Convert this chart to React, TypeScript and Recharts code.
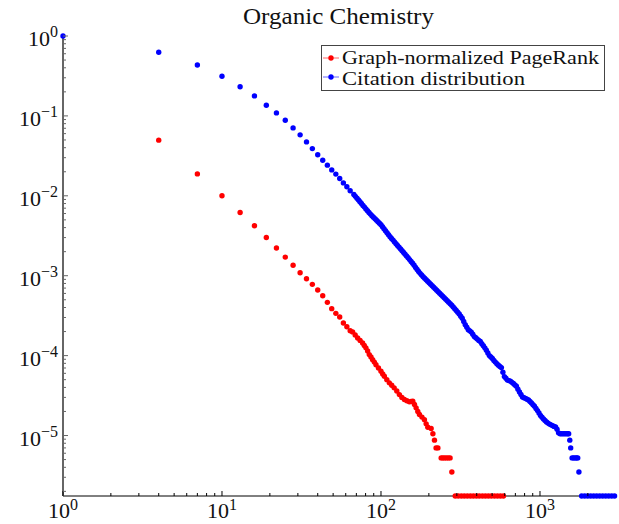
import { ScatterChart, Scatter, XAxis, YAxis } from "recharts";

const FONT = '"Liberation Serif", "Times New Roman", serif';

// Citation distribution (blue): main readings
const blueX = [
  1, 4, 7, 10, 13, 16, 19, 22, 25, 28, 31, 34, 37, 40, 43, 46, 49, 52, 55, 58, 61, 64,
  67.5, 70.6, 73.7, 77, 80.4, 84, 87.7, 91.7, 95.7, 100, 104.4, 109.1, 114, 119, 124.3, 129.9,
  135.7, 141.7, 148, 154.6, 161.5, 168.7, 176.2, 184.1, 192.3, 200.8, 209.8, 219.1, 228.8, 239,
  249.7, 260.8, 272.4, 284.6, 297.3, 310.5, 324.3, 338.8, 353.9, 369.6, 386.2, 403.4, 421.3,
  440.1, 459.9, 480.3, 501.7, 524, 547.4, 571.8, 597.2, 623.7, 651.5, 680.6, 710.9, 742.7,
  775.7, 810.2, 846.3, 884.3, 923.4, 964.3, 1007, 1052, 1099, 1148, 1199, 1253,
  1308, 1366, 1427, 1491, 1540, 1560, 1592, 1627, 1663, 1699, 1727, 1757,
  1828, 1910, 1995, 2084, 2177, 2273, 2374, 2479, 2589, 2704, 2824, 2945,
];
const blueY = [
  1, 0.625, 0.434, 0.313, 0.232, 0.178, 0.136, 0.109, 0.0883, 0.0708, 0.0579, 0.0473, 0.039,
  0.0326, 0.0279, 0.0242, 0.0211, 0.0187, 0.0165, 0.0145, 0.013, 0.01155,
  0.01038, 0.00933, 0.00844, 0.00759, 0.00686, 0.0062, 0.00562, 0.00516, 0.00473, 0.00434,
  0.00387, 0.00345, 0.00307, 0.00279, 0.00251, 0.00227, 0.00205, 0.00186, 0.00168, 0.00151,
  0.00135, 0.0012, 0.00107, 0.000972, 0.000891, 0.000818, 0.00075, 0.000688, 0.000631,
  0.000579, 0.000531, 0.000487, 0.000447, 0.000406, 0.000367, 0.000332, 0.000293, 0.000244,
  0.000211, 0.000197, 0.000173, 0.000161, 0.00015, 0.000133, 0.000117, 0.0001, 9.2e-5, 8.3e-5,
  7.6e-5, 7.08e-5, 5.46e-5, 4.94e-5, 4.8e-5, 4.47e-5, 4.13e-5, 3.5e-5, 3.03e-5, 2.92e-5,
  2.78e-5, 2.55e-5, 2.32e-5, 2.05e-5, 1.78e-5, 1.61e-5, 1.48e-5, 1.39e-5, 1.33e-5, 1.28e-5,
  1.08e-5, 1.05e-5, 1.05e-5, 1.05e-5, 8.75e-6, 7e-6, 5.25e-6, 5.25e-6, 5.25e-6, 5.25e-6,
  5.25e-6, 3.5e-6,
  1.75e-6, 1.75e-6, 1.75e-6, 1.75e-6, 1.75e-6, 1.75e-6, 1.75e-6, 1.75e-6, 1.75e-6, 1.75e-6,
  1.75e-6, 1.75e-6,
];

// blue: further readings inside the dense band
const blueBandX = [
  69, 72.2, 75.3, 78.7, 82.2, 85.8, 89.6, 93.7, 97.8, 102.2, 106.7, 111.5, 116.5, 121.6, 127,
  132.8, 138.7, 144.8, 151.3, 158, 165.1, 172.4, 180.1, 188.2, 196.5, 205.2, 214.4, 223.9,
  233.8, 244.3, 255.2, 266.5, 278.4, 290.9, 303.8, 317.3, 331.4, 346.3, 361.7, 377.7, 394.7,
  412.3, 430.6, 449.8, 470, 490.9, 512.7, 535.5, 559.4, 584.4, 610.3, 637.4, 665.8, 695.6,
  726.5, 759, 792.8, 828, 864.9, 903.8, 943.7, 985.5, 1029, 1075, 1123, 1173, 1225, 1280,
  1337, 1396, 1459, 1515,
];
const blueBandY = [
  0.00984, 0.00887, 0.008, 0.00722, 0.00652, 0.0059, 0.00539, 0.00494, 0.00453, 0.0041,
  0.00365, 0.00325, 0.00293, 0.00265, 0.00239, 0.00216, 0.00195, 0.00177, 0.00159, 0.00143,
  0.00127, 0.00113, 0.00102, 0.00093, 0.000854, 0.000783, 0.000718, 0.000659, 0.000604,
  0.000555, 0.000509, 0.000467, 0.000426, 0.000386, 0.000349, 0.000312, 0.000267, 0.000227,
  0.000204, 0.000185, 0.000167, 0.000155, 0.000141, 0.000125, 0.000108, 9.6e-5, 8.7e-5,
  7.9e-5, 7.3e-5, 6.2e-5, 5.2e-5, 4.87e-5, 4.63e-5, 4.3e-5, 3.8e-5, 3.26e-5, 2.97e-5,
  2.85e-5, 2.66e-5, 2.43e-5, 2.18e-5, 1.91e-5, 1.69e-5, 1.54e-5, 1.43e-5, 1.36e-5, 1.3e-5,
  1.2e-5, 1.05e-5, 1.05e-5, 1.05e-5, 1.05e-5,
];

// Graph-normalized PageRank (red): main readings
const redX = [
  4, 7, 10, 13, 16, 19, 22, 25, 28, 31, 34, 37, 40, 43, 46, 49, 52, 55, 58, 61, 64,
  66.3, 71.3, 76.6, 80.4, 84.4, 88.6, 93, 100, 105, 112.8, 121, 130.5, 140.3, 150.8, 158.5,
  166.3, 174.5, 187.6, 197, 206.7, 212, 217, 222, 228, 239, 245, 251, 258, 265, 272, 279,
  293, 306, 320, 334, 349, 365, 381, 398, 415, 434, 453, 473, 494, 517, 540, 564, 589,
];
const redY = [
  0.0497, 0.0188, 0.01, 0.00618, 0.00422, 0.00301, 0.00222, 0.00171, 0.00135, 0.00109,
  0.000917, 0.00078, 0.000662, 0.000562, 0.000464, 0.000387, 0.000338, 0.000304, 0.000256,
  0.00023, 0.000205,
  1.98e-4, 1.66e-4, 1.44e-4, 1.25e-4, 1.03e-4, 8.9e-5, 7.7e-5, 6.37e-5, 5.51e-5, 4.56e-5,
  3.95e-5, 3.25e-5, 2.82e-5, 2.64e-5, 2.69e-5, 2.22e-5, 1.83e-5, 1.58e-5, 1.27e-5, 1.225e-5,
  1.05e-5, 8.75e-6, 7e-6, 7e-6, 5.25e-6, 5.25e-6, 5.25e-6, 5.25e-6, 5.25e-6, 5.25e-6, 3.5e-6,
  1.75e-6, 1.75e-6, 1.75e-6, 1.75e-6, 1.75e-6, 1.75e-6, 1.75e-6, 1.75e-6, 1.75e-6, 1.75e-6,
  1.75e-6, 1.75e-6, 1.75e-6, 1.75e-6, 1.75e-6, 1.75e-6, 1.75e-6,
];

// red: further readings inside the dense chain
const redBandX = [
  68.8, 73.9, 78.5, 82.4, 86.5, 90.8, 96.4, 102.5, 108.8, 116.8, 125.7, 135.3, 145.5, 154.6,
  162.4, 170.4, 181, 192.3,
];
const redBandY = [
  1.81e-4, 1.55e-4, 1.34e-4, 1.14e-4, 9.6e-5, 8.3e-5, 7e-5, 5.9e-5, 5e-5, 4.25e-5, 3.6e-5,
  3e-5, 2.72e-5, 2.66e-5, 2.45e-5, 2e-5, 1.7e-5, 1.4e-5,
];

const xDomain = [1, 2963];
const yDomain = [1.75e-6, 1];
const xDecades = [1, 10, 100, 1000];
const yDecades = [1e-6, 1e-5, 1e-4, 1e-3, 1e-2, 1e-1];
const mantissas = [1, 2, 3, 4, 5, 6, 7, 8, 9];

const logTicks = (decades: number[], lo: number, hi: number) => {
  const out: number[] = [];
  decades.forEach((d) => mantissas.forEach((m) => out.push(+(d * m).toPrecision(6))));
  out.push(hi);
  return out.filter((v, i, a) => v >= lo && v <= hi && a.indexOf(v) === i);
};
const xTicks = logTicks(xDecades, xDomain[0], xDomain[1]).filter((v) => v !== xDomain[1]);
const yTicks = logTicks(yDecades, yDomain[0], yDomain[1]);

const toPoints = (xs: number[], ys: number[]) => xs.map((x, i) => ({ x, y: ys[i] }));
const blueData = [...toPoints(blueX, blueY), ...toPoints(blueBandX, blueBandY)];
const redData = [...toPoints(redX, redY), ...toPoints(redBandX, redBandY)];

const isMajor = (v: number) => {
  const l = Math.log10(v);
  return Math.abs(l - Math.round(l)) < 1e-6;
};
const expText = (v: number) => {
  const e = Math.round(Math.log10(v));
  return e < 0 ? `\u2212${-e}` : `${e}`;
};

const MAJOR = 5;
const MINOR = 3;

function BottomTick(props: any) {
  const { x, y, payload } = props;
  const major = isMajor(payload.value);
  return (
    <g>
      <line x1={x} x2={x} y1={y} y2={y - (major ? MAJOR : MINOR)} stroke="#000" />
      {major && (
        <text x={x} y={y + 22} textAnchor="middle" fontFamily={FONT} fontSize={22} fill="#111">
          10
          <tspan dy={-8} fontSize={16}>
            {expText(payload.value)}
          </tspan>
        </text>
      )}
    </g>
  );
}

function TopTick(props: any) {
  const { x, y, payload } = props;
  const major = isMajor(payload.value);
  return <line x1={x} x2={x} y1={y} y2={y + (major ? MAJOR : MINOR)} stroke="#000" />;
}

function LeftTick(props: any) {
  const { x, y, payload } = props;
  const major = isMajor(payload.value);
  return (
    <g>
      <line x1={x} x2={x + (major ? MAJOR : MINOR)} y1={y} y2={y} stroke="#666" />
      {major && (
        <text x={x - 5} y={y + 10} textAnchor="end" fontFamily={FONT} fontSize={22} fill="#111">
          10
          <tspan dy={-9} fontSize={16}>
            {expText(payload.value)}
          </tspan>
        </text>
      )}
    </g>
  );
}

function RightTick(props: any) {
  const { x, y, payload } = props;
  const major = isMajor(payload.value);
  return <line x1={x} x2={x - (major ? MAJOR : MINOR)} y1={y} y2={y} stroke="#000" />;
}

const dot = (color: string) => (p: any) => <circle cx={p.cx} cy={p.cy} r={2.7} fill={color} />;

export default function App() {
  return (
    <div style={{ position: "absolute", left: 0, top: 0, width: 619, height: 524, background: "#fff" }}>
      <ScatterChart width={619} height={524} margin={{ top: 36, right: 4, bottom: 0, left: 0 }}>
        <XAxis
          xAxisId="b"
          dataKey="x"
          type="number"
          scale="log"
          domain={xDomain}
          ticks={xTicks}
          interval={0}
          height={28}
          tickSize={0}
          tickMargin={0}
          tickLine={false}
          axisLine={{ stroke: "#000" }}
          tick={BottomTick}
        />
        <XAxis
          xAxisId="t"
          orientation="top"
          type="number"
          scale="log"
          domain={xDomain}
          ticks={xTicks}
          interval={0}
          height={0}
          tickSize={0}
          tickMargin={0}
          tickLine={false}
          axisLine={{ stroke: "#000" }}
          tick={TopTick}
        />
        <YAxis
          yAxisId="l"
          dataKey="y"
          type="number"
          scale="log"
          domain={yDomain}
          ticks={yTicks}
          interval={0}
          width={63}
          tickSize={0}
          tickMargin={0}
          tickLine={false}
          axisLine={{ stroke: "#666", strokeWidth: 2 }}
          tick={LeftTick}
        />
        <YAxis
          yAxisId="r"
          orientation="right"
          type="number"
          scale="log"
          domain={yDomain}
          ticks={yTicks}
          interval={0}
          width={0}
          tickSize={0}
          tickMargin={0}
          tickLine={false}
          axisLine={{ stroke: "#000" }}
          tick={RightTick}
        />
        <Scatter
          name="Graph-normalized PageRank"
          data={redData}
          xAxisId="b"
          yAxisId="l"
          fill="#ff0000"
          shape={dot("#ff0000")}
          isAnimationActive={false}
        />
        <Scatter
          name="Citation distribution"
          data={blueData}
          xAxisId="b"
          yAxisId="l"
          fill="#0000ff"
          shape={dot("#0000ff")}
          isAnimationActive={false}
        />
      </ScatterChart>
      <svg
        width={619}
        height={524}
        style={{ position: "absolute", left: 0, top: 0, pointerEvents: "none" }}
      >
        <text
          x={243}
          y={24}
          textLength={191}
          lengthAdjust="spacingAndGlyphs"
          fontFamily={FONT}
          fontSize={24}
          fill="#111"
        >
          Organic Chemistry
        </text>
        <rect x={321.5} y={45.5} width={283} height={45} fill="#fff" stroke="#444" />
        <line x1={323} x2={339} y1={58} y2={58} stroke="#ff0000" strokeOpacity={0.6} />
        <circle cx={331} cy={58} r={2.7} fill="#ff0000" />
        <text x={342} y={63.5} textLength={257} lengthAdjust="spacingAndGlyphs" fontFamily={FONT} fontSize={19.5} fill="#111">
          Graph-normalized PageRank
        </text>
        <line x1={323} x2={339} y1={77} y2={77} stroke="#0000ff" strokeOpacity={0.6} />
        <circle cx={331} cy={77} r={2.7} fill="#0000ff" />
        <text x={342} y={85} textLength={183} lengthAdjust="spacingAndGlyphs" fontFamily={FONT} fontSize={19.5} fill="#111">
          Citation distribution
        </text>
      </svg>
    </div>
  );
}
